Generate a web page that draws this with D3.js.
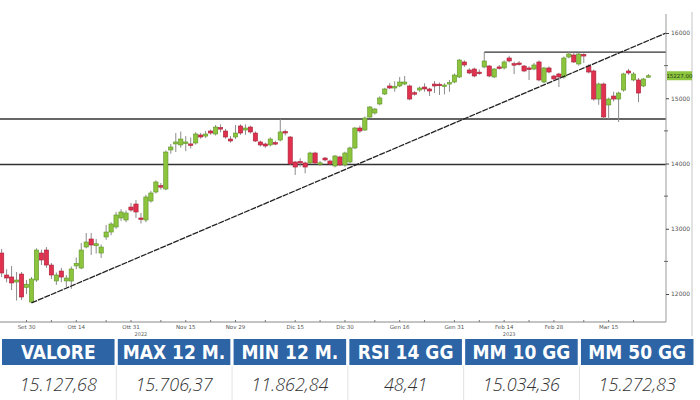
<!DOCTYPE html>
<html lang="it">
<head>
<meta charset="utf-8">
<title>DAX candlestick</title>
<script src="https://d3js.org/d3.v7.min.js"></script>
<style>
  body { margin: 0; background: #fff; }
  svg { display: block; }
</style>
</head>
<body>
<script>
// trading days shown on the chart (Sep 23 2022 -> Mar 27 2023)
var dates = [
  "2022-09-23","2022-09-26","2022-09-27","2022-09-28","2022-09-29","2022-09-30",
  "2022-10-03","2022-10-04","2022-10-05","2022-10-06","2022-10-07","2022-10-10","2022-10-11","2022-10-12","2022-10-13","2022-10-14",
  "2022-10-17","2022-10-18","2022-10-19","2022-10-20","2022-10-21","2022-10-24","2022-10-25","2022-10-26","2022-10-27","2022-10-28","2022-10-31",
  "2022-11-01","2022-11-02","2022-11-03","2022-11-04","2022-11-07","2022-11-08","2022-11-09","2022-11-10","2022-11-11","2022-11-14","2022-11-15",
  "2022-11-16","2022-11-17","2022-11-18","2022-11-21","2022-11-22","2022-11-23","2022-11-24","2022-11-25","2022-11-28","2022-11-29","2022-11-30",
  "2022-12-01","2022-12-02","2022-12-05","2022-12-06","2022-12-07","2022-12-08","2022-12-09","2022-12-12","2022-12-13","2022-12-14","2022-12-15",
  "2022-12-16","2022-12-19","2022-12-20","2022-12-21","2022-12-22","2022-12-23","2022-12-27","2022-12-28","2022-12-29","2022-12-30",
  "2023-01-02","2023-01-03","2023-01-04","2023-01-05","2023-01-06","2023-01-09","2023-01-10","2023-01-11","2023-01-12","2023-01-13","2023-01-16",
  "2023-01-17","2023-01-18","2023-01-19","2023-01-20","2023-01-23","2023-01-24","2023-01-25","2023-01-26","2023-01-27","2023-01-30","2023-01-31",
  "2023-02-01","2023-02-02","2023-02-03","2023-02-06","2023-02-07","2023-02-08","2023-02-09","2023-02-10","2023-02-13","2023-02-14",
  "2023-02-15","2023-02-16","2023-02-17","2023-02-20","2023-02-21","2023-02-22","2023-02-23","2023-02-24","2023-02-27","2023-02-28",
  "2023-03-01","2023-03-02","2023-03-03","2023-03-06","2023-03-07","2023-03-08","2023-03-09","2023-03-10","2023-03-13","2023-03-14",
  "2023-03-15","2023-03-16","2023-03-17","2023-03-20","2023-03-21","2023-03-22","2023-03-23","2023-03-24","2023-03-27"
];

var open = [
  12628,12291,12261,12184,12306,12100,11877,12214,12628,12674,12444,12200,12352,12200,12199,12430,
  12398,12720,12843,12740,12628,12874,12950,13027,13165,13134,13333,
  13379,13165,13134,13425,13563,13660,13609,14207,14300,14284,14320,
  14300,14314,14437,14420,14498,14452,14550,14498,14375,14406,14575,
  14513,14559,14467,14330,14299,14284,14320,14360,14490,14406,
  14023,14030,14008,14008,14161,14000,14084,14038,13962,14100,
  13977,14023,14238,14544,14513,14712,14774,14912,15065,15188,15170,
  15188,15218,15188,15085,15126,15172,15142,15218,15215,15200,15218,
  15249,15326,15556,15433,15448,15400,15479,15494,15326,15480,
  15464,15617,15530,15540,15494,15464,15448,15556,15249,15464,
  15341,15372,15326,15632,15663,15525,15670,15494,15418,14988,
  15218,14897,15034,14988,15126,15418,15280,15280,15188,15340
];
var high = [
  12690,12380,12429,12337,12337,12214,12260,12700,12680,12720,12475,12330,12400,12290,12420,12560,
  12782,12935,12935,12843,12760,13057,13100,13260,13300,13280,13395,
  13441,13241,13520,13580,13740,13700,14200,14300,14467,14490,14420,
  14400,14480,14470,14500,14520,14590,14600,14530,14420,14590,14600,
  14600,14580,14490,14350,14320,14400,14350,14682,14520,14420,
  14040,14080,14030,14180,14180,14040,14100,14060,14130,14120,
  14180,14260,14560,14580,14720,14880,14850,15030,15160,15234,15260,
  15326,15341,15210,15110,15180,15230,15160,15264,15240,15230,15280,
  15380,15600,15580,15460,15470,15440,15709,15510,15460,15510,
  15580,15650,15560,15570,15510,15490,15540,15580,15480,15490,
  15360,15390,15640,15706,15700,15700,15690,15520,15440,15240,
  15240,15010,15100,15100,15390,15450,15400,15310,15310,15370
];
var low = [
  12260,12180,12061,11900,11908,12000,11863,12184,12444,12400,12230,12140,12180,12110,12080,12380,
  12380,12700,12598,12620,12552,12830,12900,13000,13120,13100,13260,
  13165,13080,13100,13400,13540,13600,13590,14150,14176,14240,14190,
  14230,14290,14380,14390,14440,14430,14480,14380,14320,14375,14440,
  14440,14460,14330,14260,14240,14260,14280,14340,14430,13977,
  13824,13950,13850,13990,13990,13960,14030,13970,13940,13960,
  13950,14000,14220,14470,14500,14700,14750,14890,15050,15140,15100,
  15170,15200,14970,15040,15100,15100,15034,15080,15050,15060,15100,
  15230,15310,15480,15370,15320,15360,15460,15320,15310,15440,
  15440,15550,15370,15500,15400,15280,15430,15260,15230,15380,
  15270,15172,15300,15610,15540,15500,15540,15380,14960,14900,
  14682,14682,14950,14636,15100,15360,15260,14940,15170,15320
];
var close = [
  12322,12245,12169,12214,11954,12150,12230,12674,12521,12444,12291,12291,12260,12245,12383,12470,
  12674,12797,12751,12770,12720,12950,13073,13211,13257,13241,13287,
  13257,13150,13487,13548,13717,13640,14176,14253,14330,14375,14330,
  14290,14452,14406,14452,14467,14559,14540,14406,14345,14467,14467,
  14544,14483,14345,14284,14268,14375,14310,14483,14470,13992,
  13946,14020,13946,14161,14008,14010,14054,13992,14115,13977,
  14161,14238,14544,14498,14697,14866,14835,15004,15142,15157,15180,
  15249,15249,14988,15080,15157,15142,15111,15188,15210,15203,15240,
  15356,15586,15510,15387,15341,15395,15571,15341,15448,15475,
  15556,15571,15525,15525,15418,15460,15510,15280,15464,15402,
  15295,15326,15617,15678,15556,15678,15660,15402,14988,15218,
  14713,14988,14988,15080,15372,15387,15372,15080,15295,15345
];

var xTicks = [
  ["2022-09-30","Set 30"],["2022-10-14","Ott 14"],["2022-10-31","Ott 31"],["2022-11-15","Nov 15"],
  ["2022-11-29","Nov 29"],["2022-12-15","Dic 15"],["2022-12-30","Dic 30"],["2023-01-16","Gen 16"],
  ["2023-01-31","Gen 31"],["2023-02-14","Feb 14"],["2023-02-28","Feb 28"],["2023-03-15","Mar 15"]
];
var xMinor = ["2022-10-07","2022-10-24","2022-11-08","2022-11-22","2022-12-07","2022-12-22",
  "2023-01-09","2023-01-23","2023-02-07","2023-02-21","2023-03-08","2023-03-22"];
var yearLabels = [["2022-11-02","2022"],["2023-02-15","2023"]];
var yTicks = [12000, 13000, 14000, 15000, 16000];
var yMinor = [12500, 13500, 14500, 15500];

// support / resistance levels and trendline
var levels = [14682, 13985];
var resistance = { from: "2023-02-08", value: 15706.37 };
var trend = { from: "2022-10-03", value: 11862.84, toValue: 16000 };
var lastPrice = "15227.00";

var headers = ["VALORE", "MAX 12 M.", "MIN 12 M.", "RSI 14 GG", "MM 10 GG", "MM 50 GG"];
var values = ["15.127,68", "15.706,37", "11.862,84", "48,41", "15.034,36", "15.272,83"];

var W = 700, H = 400;
var plotRight = 666, plotTop = 14, plotBottom = 322;

var svg = d3.select("body").append("svg")
    .attr("width", W)
    .attr("height", H);

var x = d3.scaleBand()
    .domain(dates)
    .range([-0.5, 650.6])
    .paddingInner(0.14);

var y = d3.scaleLinear()
    .domain([12000, 16000])
    .range([294, 33]);

function cx(d) { return x(d) + x.bandwidth() / 2; }

// right light border
svg.append("line")
    .attr("x1", 692).attr("x2", 692).attr("y1", 12).attr("y2", 336)
    .attr("stroke", "#cfcfcf").attr("stroke-width", 1.2);

svg.append("defs").append("clipPath").attr("id", "plotclip")
  .append("rect").attr("x", 0).attr("y", plotTop).attr("width", plotRight).attr("height", plotBottom - plotTop);

var plot = svg.append("g").attr("clip-path", "url(#plotclip)");

// horizontal levels
plot.selectAll("line.level")
    .data(levels)
    .enter().append("line")
    .attr("class", "level")
    .attr("x1", 0).attr("x2", plotRight)
    .attr("y1", function(d) { return y(d); })
    .attr("y2", function(d) { return y(d); })
    .attr("stroke", "#333").attr("stroke-width", 1.4);

plot.append("line")
    .attr("x1", cx(resistance.from)).attr("x2", plotRight)
    .attr("y1", y(resistance.value)).attr("y2", y(resistance.value))
    .attr("stroke", "#333").attr("stroke-width", 1.4);

// candles
var candles = dates.map(function(d, i) {
  return { date: d, o: open[i], h: high[i], l: low[i], c: close[i] };
});

var g = plot.selectAll("g.candle")
    .data(candles)
    .enter().append("g")
    .attr("class", "candle");

g.append("line")
    .attr("x1", function(d) { return cx(d.date); })
    .attr("x2", function(d) { return cx(d.date); })
    .attr("y1", function(d) { return y(d.h); })
    .attr("y2", function(d) { return y(d.l); })
    .attr("stroke", "#8c8c8c").attr("stroke-width", 1);

g.append("rect")
    .attr("x", function(d) { return x(d.date); })
    .attr("width", x.bandwidth())
    .attr("y", function(d) { return y(Math.max(d.o, d.c)); })
    .attr("height", function(d) { return Math.max(1.5, Math.abs(y(d.o) - y(d.c))); })
    .attr("fill", function(d) { return d.c >= d.o ? "#8cc43e" : "#e0324f"; })
    .attr("stroke", function(d) { return d.c >= d.o ? "#5e9426" : "#a82038"; })
    .attr("stroke-width", 0.6);

// trendline
plot.append("line")
    .attr("x1", cx(trend.from)).attr("y1", y(trend.value))
    .attr("x2", plotRight).attr("y2", y(trend.toValue))
    .attr("stroke", "#222").attr("stroke-width", 1.3)
    .attr("stroke-dasharray", "6,1");

// y axis (right)
svg.append("line")
    .attr("x1", plotRight).attr("x2", plotRight).attr("y1", plotTop).attr("y2", plotBottom)
    .attr("stroke", "#9a9a9a").attr("stroke-width", 1);

var yAxis = d3.axisRight(y)
    .tickValues(yTicks)
    .tickSize(3)
    .tickFormat(d3.format("d"));

var ya = svg.append("g")
    .attr("transform", "translate(" + plotRight + ",0)")
    .call(yAxis);
ya.select(".domain").remove();
ya.selectAll("line").attr("stroke", "#444");
ya.selectAll("text")
    .attr("x", 5)
    .attr("fill", "#555")
    .style("font-family", "DejaVu Sans, sans-serif")
    .style("font-size", "6px");

// minor ticks
svg.selectAll("line.yminor")
    .data(yMinor)
    .enter().append("line")
    .attr("class", "yminor")
    .attr("x1", plotRight - 2).attr("x2", plotRight + 2)
    .attr("y1", function(d) { return y(d); })
    .attr("y2", function(d) { return y(d); })
    .attr("stroke", "#666");

// last price tag
var lastY = y(close[close.length - 1]);
svg.append("rect")
    .attr("x", plotRight + 1).attr("y", lastY - 4.5)
    .attr("width", 25).attr("height", 9)
    .attr("fill", "#8cc63f");
svg.append("text")
    .attr("x", plotRight + 13.5).attr("y", lastY + 2.2)
    .attr("text-anchor", "middle")
    .attr("fill", "#2a3a10")
    .style("font-family", "DejaVu Sans, sans-serif")
    .style("font-size", "5.5px")
    .text(lastPrice);

// x axis
svg.append("line")
    .attr("x1", 0).attr("x2", plotRight).attr("y1", plotBottom).attr("y2", plotBottom)
    .attr("stroke", "#888").attr("stroke-width", 1);

var xa = svg.append("g");
xa.selectAll("line.xt")
    .data(xTicks.map(function(d) { return d[0]; }).concat(xMinor))
    .enter().append("line")
    .attr("x1", function(d) { return cx(d); })
    .attr("x2", function(d) { return cx(d); })
    .attr("y1", plotBottom - 2).attr("y2", plotBottom)
    .attr("stroke", "#777");

xa.selectAll("text.xl")
    .data(xTicks)
    .enter().append("text")
    .attr("x", function(d) { return cx(d[0]); })
    .attr("y", 329)
    .attr("text-anchor", "middle")
    .attr("fill", "#555")
    .style("font-family", "DejaVu Sans, sans-serif")
    .style("font-size", "5.5px")
    .text(function(d) { return d[1]; });

xa.selectAll("text.yr")
    .data(yearLabels)
    .enter().append("text")
    .attr("x", function(d) { return cx(d[0]); })
    .attr("y", 336)
    .attr("text-anchor", "middle")
    .attr("fill", "#666")
    .style("font-family", "DejaVu Sans, sans-serif")
    .style("font-size", "5px")
    .text(function(d) { return d[1]; });

// stats table
var cellX = d3.scaleBand()
    .domain(headers)
    .range([2, 693.5])
    .paddingInner(0.028);

var table = svg.append("g");

table.selectAll("rect.hd")
    .data(headers)
    .enter().append("rect")
    .attr("x", function(d) { return cellX(d); })
    .attr("y", 339)
    .attr("width", cellX.bandwidth())
    .attr("height", 26)
    .attr("fill", "#2c64a6");

table.selectAll("text.hd")
    .data(headers)
    .enter().append("text")
    .attr("x", function(d) { return cellX(d) + cellX.bandwidth() / 2; })
    .attr("y", 359)
    .attr("text-anchor", "middle")
    .attr("fill", "#fff")
    .style("font-family", "'DejaVu Sans Condensed', 'Liberation Sans Narrow', sans-serif")
    .style("font-weight", "bold")
    .style("font-size", "19px")
    .text(function(d) { return d; });

table.selectAll("line.sep")
    .data(headers.slice(1))
    .enter().append("line")
    .attr("x1", function(d) { return cellX(d) - 1.5; })
    .attr("x2", function(d) { return cellX(d) - 1.5; })
    .attr("y1", 366).attr("y2", 400)
    .attr("stroke", "#e2e2e2");

table.selectAll("text.val")
    .data(values)
    .enter().append("text")
    .attr("x", function(d, i) { return cellX(headers[i]) + cellX.bandwidth() / 2; })
    .attr("y", 391)
    .attr("text-anchor", "middle")
    .attr("fill", "#333")
    .style("font-family", "'Open Sans', sans-serif")
    .style("font-style", "italic")
    .style("font-weight", "300")
    .style("font-size", "18px")
    .text(function(d) { return d; });
</script>
</body>
</html>
